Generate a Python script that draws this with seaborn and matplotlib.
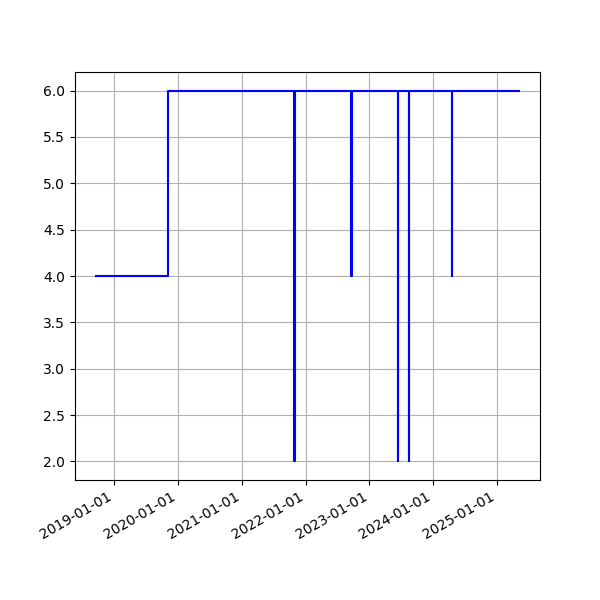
import pandas as pd
import matplotlib
matplotlib.use("Agg")
import matplotlib.pyplot as plt
import matplotlib.dates as mdates
import seaborn as sns

# step series: each date is where the value changes
dates = [
  "2018-09-20", "2019-11-07",
  "2021-10-29", "2021-11-02",
  "2022-09-20", "2022-09-21",
  "2023-06-14", "2023-06-16",
  "2023-08-15", "2023-08-17",
  "2024-04-18", "2024-04-19",
  "2025-05-05",
]
values = [4, 6, 2, 6, 4, 6, 2, 6, 2, 6, 4, 6, 6]

df = pd.DataFrame({"date": pd.to_datetime(dates), "value": values})

fig, ax = plt.subplots(figsize=(6, 6), dpi=100)

sns.lineplot(data=df, x="date", y="value", color="blue",
             drawstyle="steps-post", linewidth=1.5, ax=ax)

ax.set_xlabel("")
ax.set_ylabel("")
ax.xaxis.set_major_locator(mdates.YearLocator())
ax.xaxis.set_major_formatter(mdates.DateFormatter("%Y-%m-%d"))
ax.grid(True)
fig.autofmt_xdate()

plt.savefig("out.png", dpi=100)
